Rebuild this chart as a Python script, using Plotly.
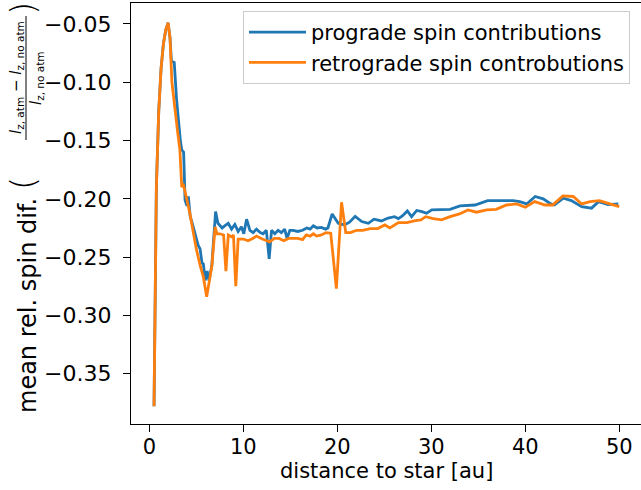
import plotly.graph_objects as go

# mean relative spin difference vs. distance to star
pro_x = [0.5, 0.6, 0.75, 1.0, 1.25, 1.5, 1.75, 2.0, 2.2, 2.35, 2.65, 2.9, 3.1, 3.3, 3.45,
         3.65, 3.8, 4.0, 4.15, 4.35, 4.6, 4.85, 5.2, 5.4, 5.6, 5.75, 5.95, 6.15, 6.35, 6.65,
         6.8, 7.05, 7.3, 7.55, 7.75, 8.05, 8.4, 8.75, 9.1, 9.45, 9.8, 10.05, 10.35, 10.7,
         11.05, 11.4, 11.8, 12.1, 12.45, 12.75, 13.0, 13.35, 13.7, 14.05, 14.4, 14.65, 14.95,
         15.3, 15.8, 16.3, 16.75, 17.1, 17.45, 17.85, 18.3, 18.75, 19.0, 19.45, 20.1, 20.75,
         21.3, 21.9, 22.6, 23.3, 23.9, 24.7, 25.4, 26.1, 26.5, 26.95, 27.45, 27.9, 28.45,
         29.0, 29.5, 30.05, 31.0, 32.0, 33.05, 34.65, 36.0, 37.0, 38.7, 39.4, 40.15, 41.05,
         41.9, 42.6, 43.1, 44.05, 44.9, 46.0, 47.05, 47.8, 48.8, 49.9]
pro_y = [-0.378, -0.300, -0.190, -0.125, -0.088, -0.067, -0.055, -0.049, -0.062, -0.082,
         -0.083, -0.115, -0.135, -0.150, -0.158, -0.160, -0.201, -0.206, -0.198, -0.215,
         -0.222, -0.229, -0.240, -0.243, -0.255, -0.256, -0.270, -0.262, -0.270, -0.257,
         -0.241, -0.211, -0.221, -0.223, -0.225, -0.223, -0.221, -0.226, -0.222, -0.228,
         -0.224, -0.230, -0.2175, -0.227, -0.229, -0.226, -0.229, -0.230, -0.227, -0.2515,
         -0.227, -0.230, -0.227, -0.229, -0.226, -0.234, -0.227, -0.227, -0.228, -0.227,
         -0.225, -0.226, -0.2232, -0.225, -0.2245, -0.226, -0.225, -0.213, -0.221, -0.2224,
         -0.220, -0.215, -0.2195, -0.221, -0.2175, -0.219, -0.2165, -0.2153, -0.217, -0.2145,
         -0.2104, -0.2153, -0.210, -0.211, -0.2124, -0.2095, -0.209, -0.209, -0.2061, -0.2053,
         -0.2015, -0.2015, -0.2015, -0.2024, -0.2044, -0.198, -0.200, -0.2038, -0.2053,
         -0.1995, -0.2015, -0.2067, -0.208, -0.2024, -0.205, -0.2044]

retro_x = [0.5, 0.6, 0.75, 1.0, 1.25, 1.5, 1.75, 2.0, 2.2, 2.4, 2.7, 3.0, 3.25, 3.45, 3.6,
           3.8, 4.0, 4.3, 4.6, 5.0, 5.4, 5.75, 6.1, 6.45, 6.65, 7.0, 7.2, 7.5, 7.9, 8.15, 8.4,
           8.75, 8.95, 9.2, 9.45, 10.0, 10.5, 11.0, 11.4, 11.9, 12.5, 12.8, 13.3, 13.8, 14.3,
           14.8, 15.3, 15.8, 16.3, 16.7, 17.1, 17.45, 17.8, 18.3, 18.8, 19.3, 19.9, 20.45,
           20.9, 21.4, 22.05, 22.7, 23.5, 24.3, 25.05, 25.6, 26.5, 27.4, 28.3, 28.9, 29.4,
           30.2, 31.1, 32.0, 33.0, 33.9, 34.8, 35.9, 36.9, 38.0, 39.1, 40.0, 41.0, 42.1, 42.9,
           44.0, 45.1, 46.0, 46.9, 47.9, 49.0, 50.0]
retro_y = [-0.378, -0.300, -0.190, -0.125, -0.088, -0.067, -0.055, -0.049, -0.062, -0.100,
           -0.124, -0.142, -0.158, -0.190, -0.187, -0.193, -0.201, -0.212, -0.226, -0.243,
           -0.257, -0.267, -0.284, -0.266, -0.258, -0.224, -0.230, -0.230, -0.231, -0.262,
           -0.231, -0.2325, -0.231, -0.275, -0.2345, -0.2345, -0.236, -0.234, -0.232, -0.234,
           -0.236, -0.237, -0.234, -0.234, -0.236, -0.234, -0.234, -0.234, -0.235, -0.231,
           -0.232, -0.230, -0.232, -0.231, -0.229, -0.2295, -0.277, -0.203, -0.229, -0.229,
           -0.227, -0.227, -0.2255, -0.2255, -0.2224, -0.225, -0.2204, -0.2204, -0.2187,
           -0.218, -0.2153, -0.217, -0.218, -0.2153, -0.213, -0.2095, -0.2115, -0.2095,
           -0.209, -0.2053, -0.2044, -0.2072, -0.2024, -0.2053, -0.2053, -0.1975, -0.198,
           -0.2044, -0.2024, -0.2015, -0.2044, -0.2067]

x_ticks = [0, 10, 20, 30, 40, 50]
y_ticks = [-0.35, -0.30, -0.25, -0.20, -0.15, -0.10, -0.05]
y_tick_text = ["\u22120.35", "\u22120.30", "\u22120.25", "\u22120.20", "\u22120.15",
               "\u22120.10", "\u22120.05"]

FONT = "DejaVu Sans"
W, H = 641, 490
ML, MR, MT, MB = 131, 0, 3, 66
PW, PH = W - ML - MR, H - MT - MB


def px(xpix):
    return (xpix - ML) / PW


def py(ypix):
    return (H - MB - ypix) / PH


fig = go.Figure()
fig.add_trace(go.Scatter(x=pro_x, y=pro_y, mode="lines", name="prograde spin contributions",
                         line=dict(color="#1f77b4", width=2.8)))
fig.add_trace(go.Scatter(x=retro_x, y=retro_y, mode="lines",
                         name="retrograde spin controbutions",
                         line=dict(color="#ff7f0e", width=2.8)))

axis_common = dict(showgrid=False, zeroline=False, showline=True, linecolor="black",
                   linewidth=1.3, ticks="outside", ticklen=7, tickwidth=1.3,
                   tickcolor="black")

fig.update_xaxes(range=[-1.95, 52.31], tickvals=x_ticks, mirror=True, ticklabelstandoff=-3,
                 tickfont=dict(family=FONT, size=21, color="black"), **axis_common)
fig.update_yaxes(range=[-0.3932, -0.032], tickvals=y_ticks, ticktext=y_tick_text,
                 ticklabelstandoff=7, tickfont=dict(family=FONT, size=22, color="black"),
                 **axis_common)

label_font = dict(family=FONT, color="black")
annotations = [
    # x-axis title
    dict(text="distance to star [au]", x=0.5, y=py(471), textangle=0,
         font=dict(size=21, **label_font)),
    # rotated y-axis label with a stacked fraction
    dict(text="mean rel. spin dif.", x=px(28), y=py(306), textangle=-90,
         font=dict(size=24, **label_font)),
    dict(text="(", x=px(23), y=py(184), textangle=-90,
         font=dict(size=34, weight=200, **label_font)),
    dict(text="<i>l</i><sub>z, atm</sub> \u2212 <i>l</i><sub>z, no atm</sub>",
         x=px(16), y=py(78), textangle=-90, font=dict(size=15, **label_font)),
    dict(text="<i>l</i><sub>z, no atm</sub>", x=px(36), y=py(78), textangle=-90,
         font=dict(size=15, **label_font)),
    dict(text=")", x=px(23), y=py(9), textangle=-90,
         font=dict(size=34, weight=200, **label_font)),
]
for a in annotations:
    a.update(xref="paper", yref="paper", showarrow=False,
             xanchor="center", yanchor="middle")

fig.update_layout(
    width=W, height=H,
    margin=dict(l=ML, r=MR, t=MT, b=MB),
    paper_bgcolor="white", plot_bgcolor="white",
    font=dict(family=FONT, size=20, color="black"),
    annotations=annotations,
    shapes=[dict(type="line", xref="paper", yref="paper", x0=px(26), x1=px(26),
                 y0=py(16), y1=py(140), line=dict(color="black", width=1))],
    legend=dict(x=px(630), y=py(11), xanchor="right", yanchor="top",
                bgcolor="rgba(255,255,255,0.8)", bordercolor="#cccccc", borderwidth=1,
                font=dict(family=FONT, size=21, color="black"), itemwidth=57,
                tracegroupgap=0),
    showlegend=True,
)

fig.write_html("out.html")
